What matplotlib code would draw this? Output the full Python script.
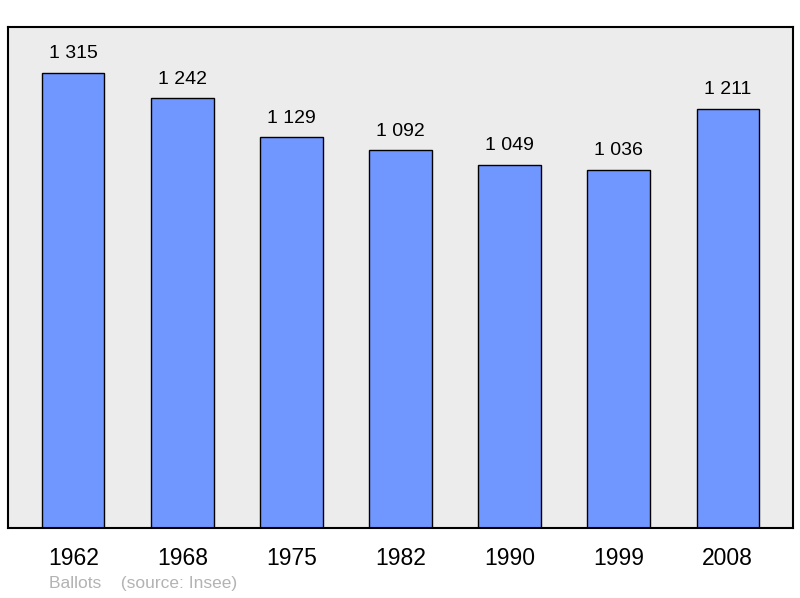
import matplotlib
matplotlib.use("Agg")
import matplotlib.pyplot as plt

years = ["1962", "1968", "1975", "1982", "1990", "1999", "2008"]
population = [1315, 1242, 1129, 1092, 1049, 1036, 1211]
labels = ["1 315", "1 242", "1 129", "1 092", "1 049", "1 036", "1 211"]

plt.rcParams["font.family"] = ["Liberation Sans", "DejaVu Sans"]

fig = plt.figure(figsize=(8, 5.98), dpi=100)
ax = fig.add_axes([0.01, 0.117, 0.98125, 0.8378])
ax.set_facecolor("#ececec")

x = range(len(years))
ax.bar(x, population, width=0.57, color="#7096ff", edgecolor="black",
       linewidth=1.0, zorder=2)

# value labels above each bar
for i, (v, lab) in enumerate(zip(population, labels)):
    ax.annotate(lab, (i, v), xytext=(0, 10.5), textcoords="offset points",
                ha="center", va="baseline", fontsize=14)

ax.set_xlim(-0.6, 6.6)
ax.set_ylim(0, 1448)
ax.set_yticks([])
ax.set_xticks(list(x))
ax.set_xticklabels(years, fontsize=16.5)
ax.tick_params(axis="x", length=0, pad=14)
for s in ax.spines.values():
    s.set_linewidth(1.5)
    s.set_color("black")

fig.text(0.061, 0.024, "Ballots    (source: Insee)", fontsize=12.5,
         color="#b3b3b3", ha="left", va="center")

fig.savefig("out.png", dpi=100)
